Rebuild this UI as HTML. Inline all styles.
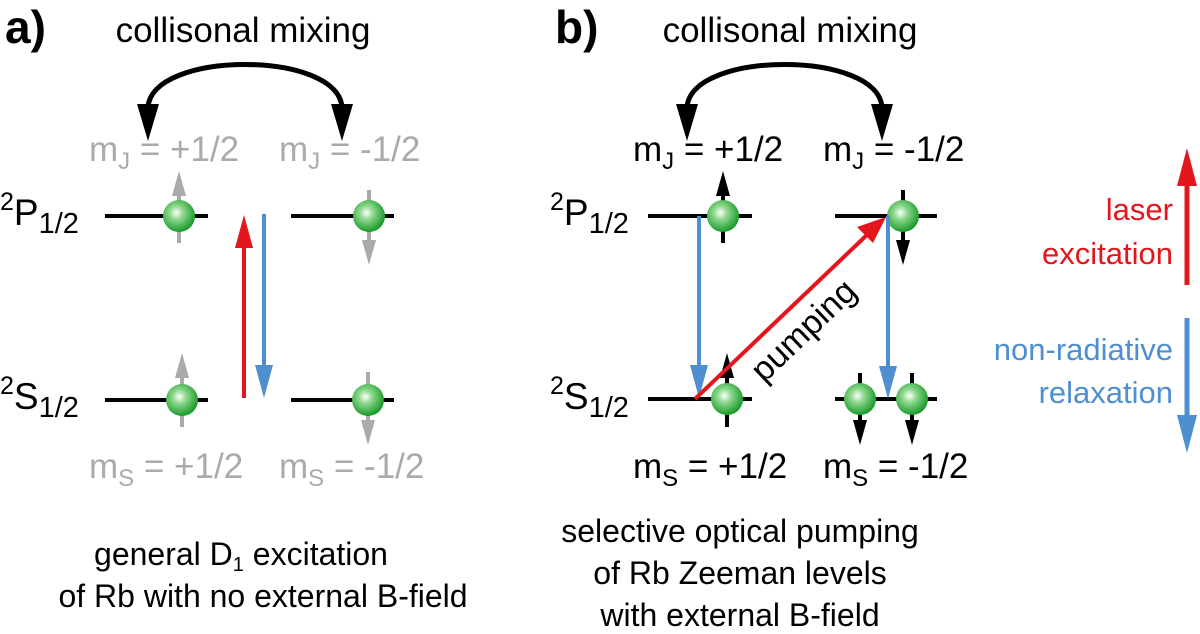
<!DOCTYPE html>
<html><head><style>
html,body{margin:0;padding:0;background:#fff;}
svg{display:block;}
text{font-family:"Liberation Sans",Arial,sans-serif;}
</style></head><body>
<svg width="1200" height="634" viewBox="0 0 1200 634" xmlns="http://www.w3.org/2000/svg">
<defs>
<radialGradient id="g" cx="0.42" cy="0.4" r="0.6">
<stop offset="0" stop-color="#ffffff"/>
<stop offset="0.35" stop-color="#8fd98f"/>
<stop offset="1" stop-color="#1a9a2a"/>
</radialGradient>
</defs>
<g font-size="35">
<text x="5" y="43" font-size="46" font-weight="bold">a)</text>
<text x="555" y="43" font-size="46" font-weight="bold">b)</text>
<text x="243" y="42" text-anchor="middle">collisonal mixing</text>
<text x="790" y="42" text-anchor="middle">collisonal mixing</text>
</g>
<g fill="none" stroke="#000" stroke-width="5">
<path d="M148,108 C150,50 340,50 342,108"/>
<path d="M687,108 C689,50 880,50 882,108"/>
</g>
<g fill="#000">
<polygon points="137,104 159,104 148,141"/>
<polygon points="331,104 353,104 342,141"/>
<polygon points="676,104 698,104 687,141"/>
<polygon points="871,104 893,104 882,141"/>
</g>
<g font-size="35" fill="#aaa">
<text x="89" y="161">m<tspan font-size="24" dy="8">J</tspan><tspan dy="-8"> = +1/2</tspan></text>
<text x="279" y="161">m<tspan font-size="24" dy="8">J</tspan><tspan dy="-8"> = -1/2</tspan></text>
<text x="89" y="478">m<tspan font-size="24" dy="8">S</tspan><tspan dy="-8"> = +1/2</tspan></text>
<text x="279" y="478">m<tspan font-size="24" dy="8">S</tspan><tspan dy="-8"> = -1/2</tspan></text>
</g>
<g font-size="37">
<text x="0" y="225"><tspan font-size="25" dy="-15">2</tspan><tspan dy="15">P</tspan><tspan font-size="29" dy="8">1/2</tspan></text>
<text x="0" y="409"><tspan font-size="25" dy="-15">2</tspan><tspan dy="15">S</tspan><tspan font-size="29" dy="8">1/2</tspan></text>
<text x="550" y="225"><tspan font-size="25" dy="-15">2</tspan><tspan dy="15">P</tspan><tspan font-size="29" dy="8">1/2</tspan></text>
<text x="550" y="409"><tspan font-size="25" dy="-15">2</tspan><tspan dy="15">S</tspan><tspan font-size="29" dy="8">1/2</tspan></text>
</g>
<g font-size="35">
<text x="633" y="161">m<tspan font-size="24" dy="8">J</tspan><tspan dy="-8"> = +1/2</tspan></text>
<text x="823" y="161">m<tspan font-size="24" dy="8">J</tspan><tspan dy="-8"> = -1/2</tspan></text>
<text x="633" y="478">m<tspan font-size="24" dy="8">S</tspan><tspan dy="-8"> = +1/2</tspan></text>
<text x="823" y="478">m<tspan font-size="24" dy="8">S</tspan><tspan dy="-8"> = -1/2</tspan></text>
</g>
<g stroke="#000" stroke-width="4">
<line x1="105" y1="216" x2="208" y2="216"/>
<line x1="291" y1="216" x2="394" y2="216"/>
<line x1="105" y1="400" x2="208" y2="400"/>
<line x1="291" y1="400" x2="394" y2="400"/>
<line x1="648" y1="216" x2="752" y2="216"/>
<line x1="835" y1="216" x2="937" y2="216"/>
<line x1="648" y1="399" x2="752" y2="399"/>
<line x1="835" y1="399" x2="937" y2="399"/>
</g>
<g stroke="#aaa" stroke-width="4">
<line x1="179" y1="190" x2="179" y2="243"/>
<line x1="369" y1="190" x2="369" y2="245"/>
<line x1="182" y1="375" x2="182" y2="427"/>
<line x1="368" y1="372" x2="368" y2="425"/>
</g>
<g fill="#aaa">
<polygon points="172,196 186,196 179,171"/>
<polygon points="362,240 376,240 369,265"/>
<polygon points="175,378 189,378 182,353"/>
<polygon points="361,420 375,420 368,445"/>
</g>
<g stroke="#000" stroke-width="4">
<line x1="723" y1="190" x2="723" y2="243"/>
<line x1="903" y1="190" x2="903" y2="245"/>
<line x1="727" y1="375" x2="727" y2="427"/>
<line x1="860" y1="373" x2="860" y2="425"/>
<line x1="912" y1="373" x2="912" y2="425"/>
</g>
<g fill="#000">
<polygon points="716,196 730,196 723,171"/>
<polygon points="896,240 910,240 903,265"/>
<polygon points="720,378 734,378 727,353"/>
<polygon points="853,420 867,420 860,445"/>
<polygon points="905,420 919,420 912,445"/>
</g>
<g fill="url(#g)">
<circle cx="179" cy="216" r="16"/>
<circle cx="369" cy="216" r="16"/>
<circle cx="182" cy="400" r="16"/>
<circle cx="368" cy="400" r="16"/>
<circle cx="723" cy="216" r="16"/>
<circle cx="903" cy="216" r="16"/>
<circle cx="727" cy="399" r="16"/>
<circle cx="860" cy="399" r="16"/>
<circle cx="912" cy="399" r="16"/>
</g>
<line x1="244" y1="398" x2="244" y2="240" stroke="#e3161e" stroke-width="4"/>
<polygon points="235,248 253,248 244,215" fill="#e3161e"/>
<line x1="264" y1="214" x2="264" y2="370" stroke="#4f8fd0" stroke-width="4"/>
<polygon points="255,365 273,365 264,398" fill="#4f8fd0"/>
<line x1="699" y1="216" x2="699" y2="370" stroke="#4f8fd0" stroke-width="4"/>
<polygon points="690,365 708,365 699,398" fill="#4f8fd0"/>
<line x1="888" y1="216" x2="888" y2="370" stroke="#4f8fd0" stroke-width="4"/>
<polygon points="879,366 897,366 888,399" fill="#4f8fd0"/>
<line x1="695" y1="399" x2="870" y2="232" stroke="#e3161e" stroke-width="4"/>
<polygon points="886,217 857,227 873,243" fill="#e3161e"/>
<text x="803" y="330" font-size="34" text-anchor="middle" dy="0.35em" transform="rotate(-43.6 803 330)">pumping</text>
<line x1="1187" y1="285" x2="1187" y2="180" stroke="#e3161e" stroke-width="5"/>
<polygon points="1177,186 1197,186 1187,148" fill="#e3161e"/>
<line x1="1187" y1="318" x2="1187" y2="420" stroke="#4f8fd0" stroke-width="5"/>
<polygon points="1177,415 1197,415 1187,453" fill="#4f8fd0"/>
<g font-size="31" text-anchor="end">
<text x="1173" y="220" fill="#e3161e">laser</text>
<text x="1173" y="264" fill="#e3161e">excitation</text>
<text x="1173" y="360" fill="#4f8fd0">non-radiative</text>
<text x="1173" y="403" fill="#4f8fd0">relaxation</text>
</g>
<g font-size="32" text-anchor="middle">
<text x="241" y="565">general D<tspan font-size="20" dy="6">1</tspan><tspan dy="-6"> excitation</tspan></text>
<text x="263" y="607">of Rb with no external B-field</text>
<text x="740" y="542">selective optical pumping</text>
<text x="740" y="584">of Rb Zeeman levels</text>
<text x="740" y="626">with external B-field</text>
</g>
</svg>
</body></html>
